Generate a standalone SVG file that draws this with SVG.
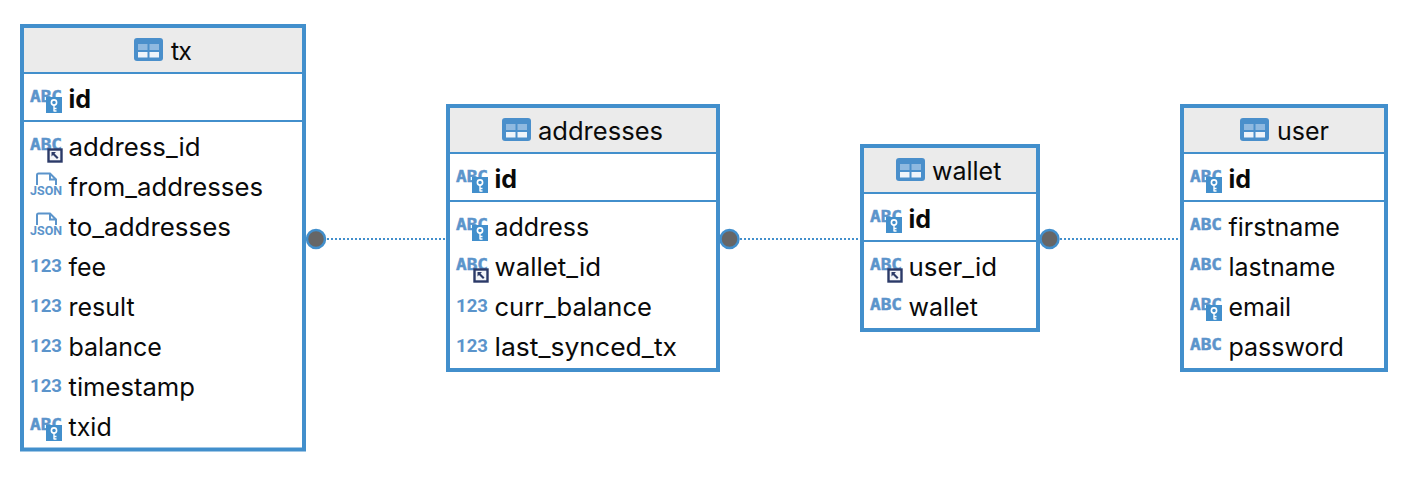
<svg xmlns="http://www.w3.org/2000/svg" width="1416" height="480" viewBox="0 0 1416 480">
<style>
.box{fill:#fff;stroke:#428fcc;stroke-width:4}
.head{fill:#ebebeb}
.sep{stroke:#428fcc;stroke-width:2;fill:none}
text{font-family:"Inter","Liberation Sans",sans-serif;fill:#0a0a0a;font-size:25px}
.b{font-weight:700}
.abc{font-family:"DejaVu Sans Mono",monospace;font-size:16.500px;font-weight:700;fill:#5b94cb;stroke:#5b94cb;stroke-width:.5}
.num{font-family:"Roboto",sans-serif;font-size:18.500px;font-weight:700;fill:#5b94cb}
.js{font-family:"Roboto",sans-serif;font-size:13.500px;font-weight:700;fill:#5b94cb}
.link{stroke:#428fcc;stroke-width:2;stroke-dasharray:2 2;fill:none}
.dot{fill:#666;stroke:#428fcc;stroke-width:2.500}
</style>
<defs>
<g id="tbl"><rect width="29" height="23" rx="3" fill="#4a8fcb"/><rect x="4" y="6" width="9.500" height="6" fill="#8fb9e0"/><rect x="15.500" y="6" width="9.500" height="6" fill="#8fb9e0"/><rect x="4" y="14" width="9.500" height="5.500" fill="#eef4fa"/><rect x="15.500" y="14" width="9.500" height="5.500" fill="#eef4fa"/></g>
<g id="abc"><text class="abc" y="-5" textLength="32" lengthAdjust="spacingAndGlyphs">ABC</text></g>
<g id="key"><use href="#abc"/><rect x="16" y="-10" width="16" height="16" fill="#428fcc"/><circle cx="24" cy="-4.500" r="2.600" fill="none" stroke="#fff" stroke-width="1.600"/><path d="M24-2V4.500M24 1.500h2.500M24 4h2.500" stroke="#fff" stroke-width="1.400" fill="none"/></g>
<g id="fk"><use href="#abc"/><rect x="18.500" y="-5.500" width="13" height="12" fill="#f2f4f8" stroke="#2b3a68" stroke-width="2.400"/><path d="M21.500-3h4.500l-1.500 1.500 4 4-1.500 1.500-4-4L21.500 1.500z" fill="#2b3a68"/></g>
<g id="num"><text class="num" y="-3.500" textLength="32" lengthAdjust="spacingAndGlyphs">123</text></g>
<g id="json"><path d="M7-10V-20a1.500 1.500 0 0 1 1.500-1.500H20l6 6V-10M20-21.500V-15.500h6" fill="none" stroke="#5b94cb" stroke-width="2"/><text class="js" y="0" textLength="32" lengthAdjust="spacingAndGlyphs">JSON</text></g>
</defs>
<g id="connectors">
<path class="link" d="M327 239H446"/><path class="link" d="M740 239H860"/><path class="link" d="M1060 239H1180"/>
</g>
<g id="tx">
<rect class="box" x="22" y="26" width="282" height="423.500"/><rect class="head" x="24" y="28" width="278" height="44"/>
<path class="sep" d="M24 73H302M24 121H302"/>
<use href="#tbl" x="134" y="38"/><text x="171" y="60" textLength="21">tx</text>
<use href="#key" x="30" y="107"/><text class="b" x="68.500" y="108">id</text>
<use href="#fk" x="30" y="155"/><text x="68.500" y="156" textLength="132" lengthAdjust="spacingAndGlyphs">address_id</text>
<use href="#json" x="30" y="195"/><text x="68.500" y="196" textLength="194.500" lengthAdjust="spacingAndGlyphs">from_addresses</text>
<use href="#json" x="30" y="235"/><text x="68.500" y="236" textLength="162.500" lengthAdjust="spacingAndGlyphs">to_addresses</text>
<use href="#num" x="30" y="275"/><text x="68.500" y="276">fee</text>
<use href="#num" x="30" y="315"/><text x="68.500" y="316">result</text>
<use href="#num" x="30" y="355"/><text x="68.500" y="356">balance</text>
<use href="#num" x="30" y="395"/><text x="68.500" y="396" textLength="126.500" lengthAdjust="spacingAndGlyphs">timestamp</text>
<use href="#key" x="30" y="435"/><text x="68.500" y="436">txid</text>
</g>
<g id="addresses">
<rect class="box" x="448" y="106" width="270" height="264"/><rect class="head" x="450" y="108" width="266" height="44"/>
<path class="sep" d="M450 153H716M450 201H716"/>
<use href="#tbl" x="502" y="118"/><text x="538" y="140" textLength="125" lengthAdjust="spacingAndGlyphs">addresses</text>
<use href="#key" x="456" y="187"/><text class="b" x="494.500" y="188">id</text>
<use href="#key" x="456" y="235"/><text x="494.500" y="236">address</text>
<use href="#fk" x="456" y="275"/><text x="494.500" y="276" textLength="106.500" lengthAdjust="spacingAndGlyphs">wallet_id</text>
<use href="#num" x="456" y="315"/><text x="494.500" y="316" textLength="157.500" lengthAdjust="spacingAndGlyphs">curr_balance</text>
<use href="#num" x="456" y="355"/><text x="494.500" y="356" textLength="182.500" lengthAdjust="spacingAndGlyphs">last_synced_tx</text>
</g>
<g id="wallet">
<rect class="box" x="862" y="146" width="176" height="184"/><rect class="head" x="864" y="148" width="172" height="44"/>
<path class="sep" d="M864 193H1036M864 241H1036"/>
<use href="#tbl" x="896" y="158"/><text x="932" y="180">wallet</text>
<use href="#key" x="870" y="227"/><text class="b" x="908.500" y="228">id</text>
<use href="#fk" x="870" y="275"/><text x="908.500" y="276" textLength="88.500" lengthAdjust="spacingAndGlyphs">user_id</text>
<use href="#abc" x="870" y="315"/><text x="908.500" y="316">wallet</text>
</g>
<g id="user">
<rect class="box" x="1182" y="106" width="204" height="264"/><rect class="head" x="1184" y="108" width="200" height="44"/>
<path class="sep" d="M1184 153H1384M1184 201H1384"/>
<use href="#tbl" x="1240" y="118"/><text x="1277" y="140">user</text>
<use href="#key" x="1190" y="187"/><text class="b" x="1228.500" y="188">id</text>
<use href="#abc" x="1190" y="235"/><text x="1228.500" y="236">firstname</text>
<use href="#abc" x="1190" y="275"/><text x="1228.500" y="276">lastname</text>
<use href="#key" x="1190" y="315"/><text x="1228.500" y="316">email</text>
<use href="#abc" x="1190" y="355"/><text x="1228.500" y="356">password</text>
</g>
<g id="dots">
<circle class="dot" cx="316" cy="239" r="9"/><circle class="dot" cx="729.500" cy="239" r="9"/><circle class="dot" cx="1049.500" cy="239" r="9"/>
</g>
</svg>
